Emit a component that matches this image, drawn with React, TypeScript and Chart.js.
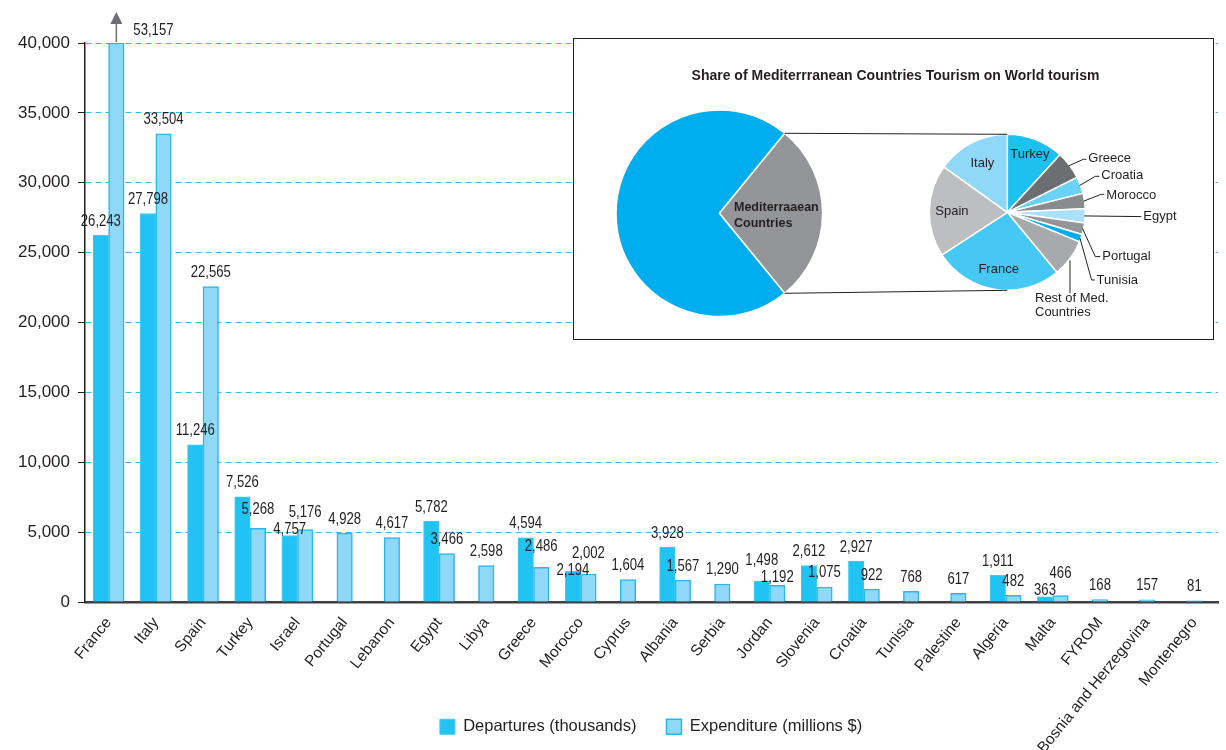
import React, { useEffect, useRef } from 'react';
import { Chart, registerables } from 'chart.js';

Chart.register(...registerables);

const SANS = "'Liberation Sans', Arial, Helvetica, sans-serif";
const INK = '#231F20';

// ---------------- data ----------------
const countries = [
  'France', 'Italy', 'Spain', 'Turkey', 'Israel', 'Portugal', 'Lebanon', 'Egypt',
  'Libya', 'Greece', 'Morocco', 'Cyprus', 'Albania', 'Serbia', 'Jordan', 'Slovenia',
  'Croatia', 'Tunisia', 'Palestine', 'Algeria', 'Malta', 'FYROM',
  'Bosnia and Herzegovina', 'Montenegro',
];
const departures: (number | null)[] = [
  26243, 27798, 11246, 7526, 4757, null, null, 5782,
  null, 4594, 2194, null, 3928, null, 1498, 2612,
  2927, null, null, 1911, 363, null,
  null, 81,
];
const expenditure: (number | null)[] = [
  53157, 33504, 22565, 5268, 5176, 4928, 4617, 3466,
  2598, 2486, 2002, 1604, 1567, 1290, 1192, 1075,
  922, 768, 617, 482, 466, 168,
  157, null,
];
const seriesNames = ['Departures (thousands)', 'Expenditure (millions $)'];
const yMax = 40000;
const yStep = 5000;

const insetTitle = 'Share of Mediterrranean Countries Tourism on World tourism';
const worldLabels = ['Mediterraaean Countries', 'Rest of the World'];
const worldShares = [28.2, 71.8];
const medLabels = [
  'Turkey', 'Greece', 'Croatia', 'Morocco', 'Egypt', 'Portugal', 'Tunisia',
  'Rest of Med. Countries', 'France', 'Spain', 'Italy',
];
const medShares = [11.8, 5.8, 3.5, 3.2, 2.9, 2.4, 1.6, 7.8, 26.8, 19.1, 15.1];

// ---------------- styles ----------------
const DEP_FILL = '#20C3F2';
const DEP_BORDER = '#3FCBF4';
const EXP_FILL = '#90D8F7';
const EXP_BORDER = '#27B7EB';
const GRID = '#38B8E8';
const WORLD_COLORS = ['#939598', '#00AEEF'];
const MED_COLORS = [
  '#1CC1F0', '#6D6E71', '#6AD2F5', '#898B8E', '#ABE2F9', '#939598', '#00AEEF',
  '#A7A9AC', '#45C8F4', '#BCBEC0', '#8FD8F7',
];
const CONDENSE = 0.82;

const W = 1226;
const H = 750;
const INSET = { left: 573, top: 38, width: 641, height: 302, border: 1.5 };
const IW = INSET.width - 2 * INSET.border;
const IH = INSET.height - 2 * INSET.border;
const PIE_BW = 1.5;

function piePadding(cx: number, cy: number, r: number) {
  return {
    left: cx - r - PIE_BW / 2,
    right: IW - cx - r - PIE_BW / 2,
    top: cy - r - PIE_BW / 2,
    bottom: IH - cy - r - PIE_BW / 2,
  };
}

function condensedText(ctx: CanvasRenderingContext2D, text: string, x: number, y: number, align: CanvasTextAlign) {
  ctx.save();
  ctx.translate(x, y);
  ctx.scale(CONDENSE, 1);
  ctx.textAlign = align;
  ctx.textBaseline = 'middle';
  ctx.fillText(text, 0, 0);
  ctx.restore();
}

// ---------------- plugins ----------------
const valueLabels = {
  id: 'valueLabels',
  afterDatasetsDraw(chart: any) {
    const ctx = chart.ctx as CanvasRenderingContext2D;
    const yScale = chart.scales.y;
    const sources = [departures, expenditure];
    const items: any[] = [];
    const arrows: any[] = [];
    ctx.save();
    ctx.font = `16px ${SANS}`;
    sources.forEach((raw, di) => {
      const meta = chart.getDatasetMeta(di);
      meta.data.forEach((bar: any, i: number) => {
        const v = raw[i];
        if (v == null) return;
        const text = v.toLocaleString('en-US');
        if (v > yScale.max) {
          arrows.push({ x: bar.x, y: bar.y, text });
          return;
        }
        items.push({ x: bar.x, y: bar.y - 14, w: ctx.measureText(text).width * CONDENSE, v, text });
      });
    });
    const LH = 14;
    for (let iter = 0; iter < 4; iter++) {
      for (let a = 0; a < items.length; a++) {
        for (let b = a + 1; b < items.length; b++) {
          const A = items[a];
          const B = items[b];
          const dy = Math.abs(A.y - B.y);
          if (Math.abs(A.x - B.x) < (A.w + B.w) / 2 + 1 && dy < LH) {
            const need = LH + 3 - dy;
            const upFirst = A.y < B.y || (A.y === B.y && A.v >= B.v);
            const up = upFirst ? A : B;
            const down = upFirst ? B : A;
            up.y -= need / 2;
            down.y += need / 2;
          }
        }
      }
    }
    ctx.fillStyle = INK;
    items.forEach((it) => condensedText(ctx, it.text, it.x, it.y, 'center'));

    arrows.forEach((a) => {
      ctx.strokeStyle = '#6D6E71';
      ctx.fillStyle = '#6D6E71';
      ctx.lineWidth = 1.5;
      ctx.beginPath();
      ctx.moveTo(a.x, a.y - 1);
      ctx.lineTo(a.x, a.y - 21);
      ctx.stroke();
      ctx.beginPath();
      ctx.moveTo(a.x, a.y - 31);
      ctx.lineTo(a.x - 6, a.y - 19);
      ctx.lineTo(a.x + 6, a.y - 19);
      ctx.closePath();
      ctx.fill();
      ctx.fillStyle = INK;
      condensedText(ctx, a.text, a.x + 17, a.y - 12, 'left');
    });
    ctx.restore();
  },
};

const layoutTweaks = {
  id: 'layoutTweaks',
  afterLayout(chart: any) {
    const lg = chart.legend;
    if (lg) {
      lg.left += 42;
      lg.right += 42;
    }
    // let the rotated category names run down past the legend row
    const x = chart.scales.x;
    if (x) x.bottom = chart.height;
  },
};

const worldLabel = {
  id: 'worldLabel',
  afterDraw(chart: any) {
    const ctx = chart.ctx as CanvasRenderingContext2D;
    const arc = chart.getDatasetMeta(0).data[0];
    ctx.save();
    ctx.fillStyle = INK;
    ctx.font = `bold 12.5px ${SANS}`;
    ctx.textAlign = 'left';
    ctx.textBaseline = 'middle';
    ctx.fillText('Mediterraaean', arc.x + 14.7, arc.y - 5.6);
    ctx.fillText('Countries', arc.x + 14.7, arc.y + 10);
    ctx.restore();
  },
};

function medAnnotations(bigChart: any) {
  return {
    id: 'medAnnotations',
    afterDraw(chart: any) {
      const ctx = chart.ctx as CanvasRenderingContext2D;
      const arcs = chart.getDatasetMeta(0).data;
      const cx = arcs[0].x;
      const cy = arcs[0].y;
      const r = arcs[0].outerRadius;
      const k = r / 78;
      ctx.save();
      ctx.fillStyle = INK;
      ctx.strokeStyle = INK;

      // title
      ctx.font = `bold 14px ${SANS}`;
      ctx.textAlign = 'center';
      ctx.textBaseline = 'middle';
      ctx.fillText(insetTitle, 321.5, 37);

      // connectors to the big pie
      const g = bigChart.getDatasetMeta(0).data[0];
      const R = g.outerRadius;
      ctx.lineWidth = 1;
      ctx.beginPath();
      ctx.moveTo(g.x + R * Math.cos(g.startAngle), g.y + R * Math.sin(g.startAngle));
      ctx.lineTo(cx, cy - r);
      ctx.moveTo(g.x + R * Math.cos(g.endAngle), g.y + R * Math.sin(g.endAngle));
      ctx.lineTo(cx, cy + r);
      ctx.stroke();

      // inside labels
      ctx.font = `13px ${SANS}`;
      const inside: [number, number][] = [[0, 0.8], [8, 0.74], [9, 0.71], [10, 0.7]];
      inside.forEach(([i, f]) => {
        const a = arcs[i];
        const mid = (a.startAngle + a.endAngle) / 2;
        ctx.fillText(medLabels[i], cx + r * f * Math.cos(mid), cy + r * f * Math.sin(mid));
      });

      // outside labels with leaders
      const outside: { i: number; pts: [number, number][]; text: [number, number]; lines?: string[] }[] = [
        { i: 1, pts: [[76, -53], [79, -53]], text: [81, -54] },
        { i: 2, pts: [[88, -36], [92, -36]], text: [94, -36.7] },
        { i: 3, pts: [[94, -18], [97, -18]], text: [99, -17.3] },
        { i: 4, pts: [[134, 4.3]], text: [136, 4.3] },
        { i: 5, pts: [[88, 44.3], [93, 44.3]], text: [95, 44.3] },
        { i: 6, pts: [[84.3, 67.7], [87.5, 67.7]], text: [89.3, 67.7] },
        { i: 7, pts: [[62.7, 81]], text: [27.7, 86], lines: ['Rest of Med.', 'Countries'] },
      ];
      ctx.lineWidth = 1;
      ctx.textAlign = 'left';
      outside.forEach((o) => {
        const a = arcs[o.i];
        const mid = (a.startAngle + a.endAngle) / 2;
        ctx.beginPath();
        if (o.i === 7) {
          ctx.moveTo(cx + o.pts[0][0] * k, cy + r * Math.sin(mid) + 2);
        } else {
          ctx.moveTo(cx + (r - 1) * Math.cos(mid), cy + (r - 1) * Math.sin(mid));
        }
        o.pts.forEach(([dx, dy]) => ctx.lineTo(cx + dx * k, cy + dy * k));
        ctx.stroke();
        const lines = o.lines || [medLabels[o.i]];
        lines.forEach((t, j) => ctx.fillText(t, cx + o.text[0] * k, cy + o.text[1] * k + j * 14.5));
      });
      ctx.restore();
    },
  };
}

// ---------------- component ----------------
export default function App() {
  const mainRef = useRef<HTMLCanvasElement>(null);
  const bigRef = useRef<HTMLCanvasElement>(null);
  const smallRef = useRef<HTMLCanvasElement>(null);

  useEffect(() => {
    Chart.defaults.font.family = SANS;
    Chart.defaults.color = INK;

    const main = new Chart(mainRef.current as HTMLCanvasElement, {
      type: 'bar',
      data: {
        labels: countries,
        datasets: [
          {
            label: seriesNames[0],
            data: departures,
            backgroundColor: DEP_FILL,
            borderColor: DEP_BORDER,
            borderWidth: 1,
          },
          {
            label: seriesNames[1],
            data: expenditure.map((v) => (v == null ? null : Math.min(v, yMax))),
            backgroundColor: EXP_FILL,
            borderColor: EXP_BORDER,
            borderWidth: 1.5,
          },
        ],
      } as any,
      options: {
        responsive: false,
        animation: false,
        events: [],
        layout: { padding: { left: 0, right: 8, top: 43, bottom: 5 } },
        datasets: { bar: { barThickness: 15.5, skipNull: true } as any },
        scales: {
          x: {
            offset: true,
            grid: { display: false },
            border: { display: true, color: '#3E4045', width: 2.5 },
            ticks: {
              autoSkip: false,
              minRotation: 51,
              maxRotation: 51,
              color: INK,
              font: { size: 15.5, family: SANS },
              padding: 4,
            },
            afterFit: (s: any) => {
              s.height = 86.5;
            },
          },
          y: {
            min: 0,
            max: yMax,
            ticks: { stepSize: yStep, color: INK, font: { size: 17, family: SANS }, padding: 8 },
            grid: {
              color: (c: any) => (c.tick && c.tick.value === 0 ? 'rgba(0,0,0,0)' : GRID),
              tickColor: INK,
              tickLength: 7,
              lineWidth: 1,
            },
            border: { display: true, color: INK, width: 1.5, dash: [6, 4] },
            afterFit: (s: any) => {
              s.width = 85;
            },
          },
        },
        plugins: {
          legend: {
            position: 'bottom',
            labels: {
              boxWidth: 15,
              boxHeight: 15,
              padding: 30,
              color: INK,
              font: { size: 16.5, family: SANS },
            },
          },
          tooltip: { enabled: false },
        },
      } as any,
      plugins: [valueLabels, layoutTweaks],
    });

    const big = new Chart(bigRef.current as HTMLCanvasElement, {
      type: 'pie',
      data: {
        labels: worldLabels,
        datasets: [
          {
            data: worldShares,
            backgroundColor: WORLD_COLORS,
            borderColor: '#FFFFFF',
            borderWidth: PIE_BW,
            hoverOffset: 0,
            offset: 0,
          },
        ],
      },
      options: {
        responsive: false,
        animation: false,
        events: [],
        rotation: 90 - (worldShares[0] / 100) * 180,
        layout: { padding: piePadding(145.3, 174.3, 103.3) },
        plugins: { legend: { display: false }, tooltip: { enabled: false } },
      } as any,
      plugins: [worldLabel],
    });

    const small = new Chart(smallRef.current as HTMLCanvasElement, {
      type: 'pie',
      data: {
        labels: medLabels,
        datasets: [
          {
            data: medShares,
            backgroundColor: MED_COLORS,
            borderColor: '#FFFFFF',
            borderWidth: PIE_BW,
            hoverOffset: 0,
            offset: 0,
          },
        ],
      },
      options: {
        responsive: false,
        animation: false,
        events: [],
        rotation: 0,
        layout: { padding: piePadding(433.3, 173.3, 78) },
        plugins: { legend: { display: false }, tooltip: { enabled: false } },
      } as any,
      plugins: [medAnnotations(big)],
    });

    return () => {
      small.destroy();
      big.destroy();
      main.destroy();
    };
  }, []);

  return (
    <div style={{ position: 'relative', width: W, height: H, background: '#FFFFFF' }}>
      <style>{'body{margin:0}'}</style>
      <canvas ref={mainRef} width={W} height={H} style={{ position: 'absolute', left: 0, top: 0 }} />
      <div
        style={{
          position: 'absolute',
          left: INSET.left,
          top: INSET.top,
          width: INSET.width,
          height: INSET.height,
          boxSizing: 'border-box',
          border: `${INSET.border}px solid ${INK}`,
          background: '#FFFFFF',
        }}
      >
        <canvas ref={bigRef} width={IW} height={IH} style={{ position: 'absolute', left: 0, top: 0 }} />
        <canvas ref={smallRef} width={IW} height={IH} style={{ position: 'absolute', left: 0, top: 0 }} />
      </div>
    </div>
  );
}
